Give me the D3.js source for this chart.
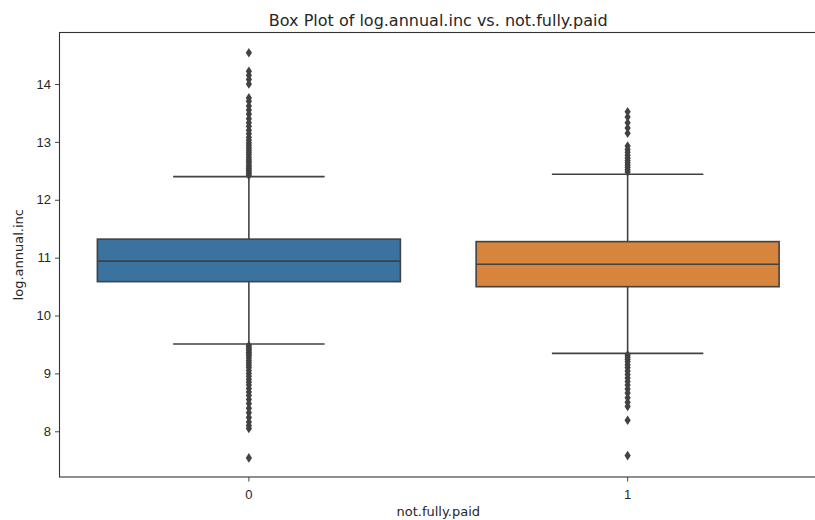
<!DOCTYPE html>
<html>
<head>
<meta charset="utf-8">
<script src="https://cdn.jsdelivr.net/npm/d3@7"></script>
<style>
	body { margin: 0; background: #fff; }
	svg { font-family: "DejaVu Sans", sans-serif; }
	.tick text { fill: #262626; }
</style>
</head>
<body>
<svg id="boxplot-vis" width="815" height="520"></svg>
<script>
// categories and box statistics
const categories = ["0", "1"];
const boxColors = ["#3a72a0", "#d7843c"];
const q1 = [10.585, 10.498];
const median = [10.94, 10.886];
const q3 = [11.32, 11.277];
const whiskerLow = [9.507, 9.346];
const whiskerHigh = [12.40, 12.44];

// outliers (fliers), estimated per category
const fliers0 = [
	14.54, 14.22, 14.15, 14.08, 14.0, 13.76, 13.7, 13.62, 13.55, 13.48, 13.4, 13.33,
	13.27, 13.2, 13.14, 13.08, 13.03, 12.98, 12.94, 12.9, 12.86, 12.82, 12.78, 12.74,
	12.7, 12.67, 12.64, 12.6, 12.57, 12.54, 12.51, 12.48, 12.45, 12.42,
	9.48, 9.45, 9.42, 9.39, 9.36, 9.33, 9.3, 9.26, 9.22, 9.18, 9.14, 9.1, 9.05, 9.0,
	8.95, 8.9, 8.85, 8.8, 8.74, 8.68, 8.62, 8.55, 8.48, 8.4, 8.32, 8.24, 8.16, 8.1,
	8.05, 7.54
];
const fliers1 = [
	13.52, 13.43, 13.33, 13.24, 13.15, 12.93, 12.87, 12.82, 12.77, 12.72, 12.68,
	12.64, 12.6, 12.56, 12.52, 12.48,
	9.32, 9.28, 9.24, 9.2, 9.15, 9.1, 9.04, 8.98, 8.92, 8.86, 8.8, 8.73, 8.66, 8.58,
	8.5, 8.43, 8.19, 7.58
];
const yTicks = [8, 9, 10, 11, 12, 13, 14];

const svg = d3.select("svg#boxplot-vis");
const bounds = { minX: 59.5, maxX: 817, minY: 32.5, maxY: 477 };
const lineColor = "#424242";

const scaleX = d3.scaleBand().domain(categories).range([bounds.minX, bounds.maxX]).padding(0);
const scaleY = d3.scaleLinear().domain([7.21, 14.89]).range([bounds.maxY, bounds.minY]);

// axes
const xAxis = svg.append("g")
	.attr("transform", `translate(0 ${bounds.maxY})`)
	.call(d3.axisBottom(scaleX).tickSize(4.5).tickPadding(8.5).tickSizeOuter(0));
const yAxis = svg.append("g")
	.attr("transform", `translate(${bounds.minX} 0)`)
	.call(d3.axisLeft(scaleY).tickValues(yTicks).tickFormat(d3.format("d")).tickSize(4.5).tickPadding(4).tickSizeOuter(0));
[xAxis, yAxis].forEach(g => {
	g.select(".domain").remove();
	g.selectAll(".tick line").attr("stroke", "#333").attr("stroke-width", 0.9);
	g.selectAll(".tick text").attr("font-size", 13);
});

// spines
svg.append("rect")
	.attr("x", bounds.minX).attr("y", bounds.minY)
	.attr("width", bounds.maxX - bounds.minX).attr("height", bounds.maxY - bounds.minY)
	.attr("fill", "none").attr("stroke", "#333").attr("stroke-width", 1.1);

const boxes = categories.map((c, i) => ({
	cat: c, color: boxColors[i], q1: q1[i], med: median[i], q3: q3[i],
	lo: whiskerLow[i], hi: whiskerHigh[i], fliers: i === 0 ? fliers0 : fliers1
}));

const bw = scaleX.bandwidth() * 0.8;
const g = svg.append("g");
boxes.forEach(b => {
	const cx = scaleX(b.cat) + scaleX.bandwidth() / 2;
	// whiskers
	g.append("line").attr("x1", cx).attr("x2", cx)
		.attr("y1", scaleY(b.q3)).attr("y2", scaleY(b.hi))
		.attr("stroke", lineColor).attr("stroke-width", 1.6);
	g.append("line").attr("x1", cx).attr("x2", cx)
		.attr("y1", scaleY(b.q1)).attr("y2", scaleY(b.lo))
		.attr("stroke", lineColor).attr("stroke-width", 1.6);
	[b.lo, b.hi].forEach(v => {
		g.append("line").attr("x1", cx - bw / 4).attr("x2", cx + bw / 4)
			.attr("y1", scaleY(v)).attr("y2", scaleY(v))
			.attr("stroke", lineColor).attr("stroke-width", 1.6);
	});
	// box
	g.append("rect")
		.attr("x", cx - bw / 2).attr("width", bw)
		.attr("y", scaleY(b.q3)).attr("height", scaleY(b.q1) - scaleY(b.q3))
		.attr("fill", b.color).attr("stroke", lineColor).attr("stroke-width", 1.6);
	g.append("line").attr("x1", cx - bw / 2).attr("x2", cx + bw / 2)
		.attr("y1", scaleY(b.med)).attr("y2", scaleY(b.med))
		.attr("stroke", lineColor).attr("stroke-width", 1.6);
	// fliers as thin diamonds
	g.selectAll(null).data(b.fliers).join("path")
		.attr("d", "M0,-4.8L3.1,0L0,4.8L-3.1,0Z")
		.attr("transform", d => `translate(${cx} ${scaleY(d)})`)
		.attr("fill", lineColor);
});

// labels
svg.append("text").attr("x", (bounds.minX + bounds.maxX) / 2).attr("y", 25.5)
	.attr("text-anchor", "middle").attr("font-size", 16).attr("fill", "#262626")
	.text("Box Plot of log.annual.inc vs. not.fully.paid");
svg.append("text").attr("x", (bounds.minX + bounds.maxX) / 2).attr("y", 516)
	.attr("text-anchor", "middle").attr("font-size", 13).attr("fill", "#262626")
	.text("not.fully.paid");
svg.append("text")
	.attr("transform", `translate(22.5 ${(bounds.minY + bounds.maxY) / 2}) rotate(-90)`)
	.attr("text-anchor", "middle").attr("font-size", 13).attr("fill", "#262626")
	.text("log.annual.inc");
</script>
</body>
</html>
